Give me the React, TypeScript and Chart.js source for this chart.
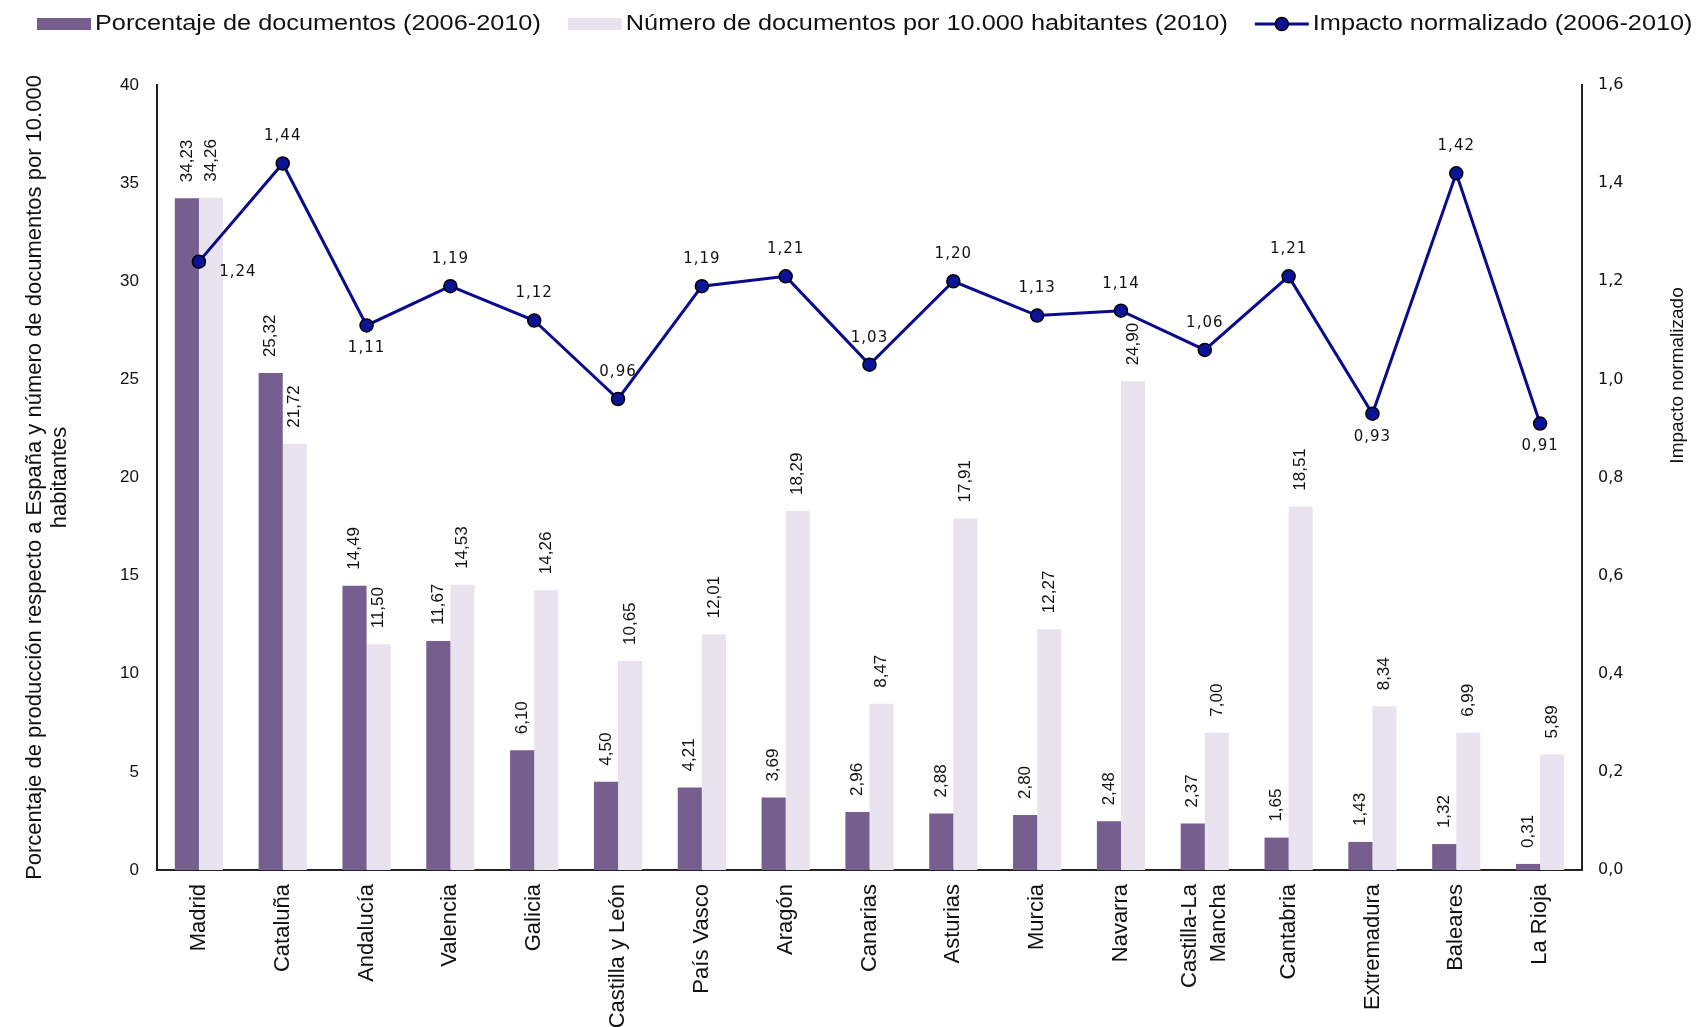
import React, { useEffect, useRef } from 'react';
import { Chart, registerables } from 'chart.js';

Chart.register(...registerables);

const regions: (string | string[])[] = [
  'Madrid', 'Cataluña', 'Andalucía', 'Valencia', 'Galicia', 'Castilla y León', 'País Vasco',
  'Aragón', 'Canarias', 'Asturias', 'Murcia', 'Navarra', ['Castilla-La', 'Mancha'], 'Cantabria',
  'Extremadura', 'Baleares', 'La Rioja',
];
const pctDocs = [34.23, 25.32, 14.49, 11.67, 6.10, 4.50, 4.21, 3.69, 2.96, 2.88, 2.80, 2.48, 2.37, 1.65, 1.43, 1.32, 0.31];
const docsPer10k = [34.26, 21.72, 11.50, 14.53, 14.26, 10.65, 12.01, 18.29, 8.47, 17.91, 12.27, 24.90, 7.00, 18.51, 8.34, 6.99, 5.89];
const impactNorm = [1.24, 1.44, 1.11, 1.19, 1.12, 0.96, 1.19, 1.21, 1.03, 1.20, 1.13, 1.14, 1.06, 1.21, 0.93, 1.42, 0.91];

const seriesNames = [
  'Porcentaje de documentos (2006-2010)',
  'Número de documentos por 10.000 habitantes (2010)',
  'Impacto normalizado (2006-2010)',
];
const leftTitle = ['Porcentaje de producción respecto a España y número de documentos por 10.000', 'habitantes'];
const rightTitle = 'Impacto normalizado';

// where each impact label sits relative to its point
const impactLabelPlacement = [
  'right', 'above', 'below', 'above', 'above', 'above', 'above', 'above', 'above',
  'above', 'above', 'above', 'above', 'above', 'below', 'above', 'below',
];

const PURPLE = '#765e8e';
const LIGHT = '#e8e3ee';
const NAVY = '#0a0a8c';
const POINT = '#0b1496';
const FONT = '"Liberation Sans", Arial, sans-serif';

const fmt = (v: number, d = 2) => v.toFixed(d).replace('.', ',');

const customPlugin = {
  id: 'customDraw',
  afterDatasetsDraw(chart: any) {
    const ctx = chart.ctx as CanvasRenderingContext2D;
    // bar labels
    [1, 2].forEach((di) => {
      const meta = chart.getDatasetMeta(di);
      const data = chart.data.datasets[di].data as number[];
      meta.data.forEach((el: any, i: number) => {
        ctx.save();
        ctx.translate(el.x, el.y - 16);
        ctx.rotate(-Math.PI / 2);
        ctx.font = `17px ${FONT}`;
        ctx.fillStyle = '#111';
        ctx.textAlign = 'left';
        ctx.textBaseline = 'middle';
        ctx.fillText(fmt(data[i]), 0, 0);
        ctx.restore();
      });
    });
    // line labels
    const lm = chart.getDatasetMeta(0);
    const ld = chart.data.datasets[0].data as number[];
    lm.data.forEach((el: any, i: number) => {
      const p = impactLabelPlacement[i];
      let x = el.x;
      let y = el.y;
      if (p === 'above') y -= 27;
      else if (p === 'below') y += 23;
      else { x += 39; y += 10; }
      ctx.save();
      ctx.font = `15px "DejaVu Sans", ${FONT}`;
      (ctx as any).letterSpacing = '1px';
      ctx.fillStyle = '#111';
      ctx.textAlign = 'center';
      ctx.textBaseline = 'middle';
      ctx.fillText(fmt(ld[i]), x, y);
      ctx.restore();
    });
  },
  afterDraw(chart: any) {
    const ctx = chart.ctx as CanvasRenderingContext2D;
    const sx = 1.15;
    const cy = 24;
    ctx.save();
    ctx.font = `22px ${FONT}`;
    ctx.textBaseline = 'middle';
    ctx.textAlign = 'left';
    let x = 37;
    const colors = [PURPLE, LIGHT];
    seriesNames.forEach((name, i) => {
      if (i < 2) {
        ctx.fillStyle = colors[i];
        ctx.fillRect(x, cy - 6, 54, 12);
      } else {
        ctx.strokeStyle = NAVY;
        ctx.lineWidth = 3;
        ctx.beginPath();
        ctx.moveTo(x, cy);
        ctx.lineTo(x + 54, cy);
        ctx.stroke();
        ctx.beginPath();
        ctx.arc(x + 27, cy, 6.5, 0, Math.PI * 2);
        ctx.fillStyle = POINT;
        ctx.fill();
        ctx.lineWidth = 1.5;
        ctx.strokeStyle = '#000';
        ctx.stroke();
      }
      const tx = x + 58;
      ctx.save();
      ctx.translate(tx, cy);
      ctx.scale(sx, 1);
      ctx.fillStyle = '#111';
      ctx.fillText(name, 0, 0);
      ctx.restore();
      const w = ctx.measureText(name).width * sx;
      x = tx + w + 27;
    });
    ctx.restore();

    // category labels, rotated, multi-line blocks centred on the tick
    const xs = chart.scales.x;
    const ca = chart.chartArea;
    ctx.save();
    ctx.font = `22px ${FONT}`;
    ctx.fillStyle = '#111';
    ctx.textAlign = 'right';
    ctx.textBaseline = 'middle';
    const lh = 29;
    (chart.data.labels as any[]).forEach((lab, i) => {
      const lines = Array.isArray(lab) ? lab : [lab];
      const px = xs.getPixelForTick(i);
      lines.forEach((ln: string, j: number) => {
        ctx.save();
        ctx.translate(px + (j - (lines.length - 1) / 2) * lh, ca.bottom + 14);
        ctx.rotate(-Math.PI / 2);
        ctx.fillText(ln, 0, 0);
        ctx.restore();
      });
    });
    ctx.restore();

    // right axis title (reads bottom-to-top)
    ctx.save();
    ctx.translate(1678, ca.top + (ca.bottom - ca.top) * 0.37);
    ctx.rotate(-Math.PI / 2);
    ctx.font = `19px ${FONT}`;
    ctx.fillStyle = '#111';
    ctx.textAlign = 'center';
    ctx.textBaseline = 'middle';
    ctx.fillText(rightTitle, 0, 0);
    ctx.restore();
  },
};

export default function App() {
  const ref = useRef<HTMLCanvasElement>(null);
  useEffect(() => {
    if (!ref.current) return;
    const chart = new Chart(ref.current, {
      type: 'bar',
      data: {
        labels: regions as any,
        datasets: [
          {
            type: 'line',
            label: seriesNames[2],
            data: impactNorm,
            yAxisID: 'y1',
            borderColor: NAVY,
            borderWidth: 3,
            backgroundColor: POINT,
            pointBackgroundColor: POINT,
            pointBorderColor: '#000',
            pointBorderWidth: 1.5,
            pointRadius: 6.5,
            tension: 0,
            order: 0,
          } as any,
          {
            type: 'bar',
            label: seriesNames[0],
            data: pctDocs,
            yAxisID: 'y',
            backgroundColor: PURPLE,
            borderWidth: 0,
            categoryPercentage: 0.575,
            barPercentage: 1,
            order: 1,
          },
          {
            type: 'bar',
            label: seriesNames[1],
            data: docsPer10k,
            yAxisID: 'y',
            backgroundColor: LIGHT,
            borderWidth: 0,
            categoryPercentage: 0.575,
            barPercentage: 1,
            order: 2,
          },
        ],
      },
      options: {
        animation: false,
        responsive: true,
        maintainAspectRatio: false,
        layout: { padding: { top: 85, left: 0, right: 0, bottom: 0 } },
        plugins: { legend: { display: false }, tooltip: { enabled: false } },
        scales: {
          x: {
            grid: { display: false },
            border: { display: true, color: '#222', width: 2 },
            ticks: { display: false, autoSkip: false },
            afterFit: (s: any) => { s.height = 157; },
          },
          y: {
            position: 'left',
            min: 0,
            max: 40,
            grid: { display: false },
            border: { display: true, color: '#222', width: 2 },
            ticks: { stepSize: 5, padding: 10, color: '#111', font: { family: FONT, size: 17 } },
            title: {
              display: true,
              text: leftTitle,
              color: '#111',
              font: { family: FONT, size: 22, lineHeight: 1.15 },
              padding: { top: 22, bottom: 0 },
            },
            afterFit: (s: any) => { s.width = 157; },
          },
          y1: {
            position: 'right',
            min: 0,
            max: 1.6,
            grid: { display: false },
            border: { display: true, color: '#222', width: 2 },
            ticks: {
              stepSize: 0.2,
              padding: 8,
              color: '#111',
              font: { family: '"DejaVu Sans", ' + FONT, size: 16 },
              callback: (v: any) => fmt(Number(v), 1),
            },
            afterFit: (s: any) => { s.width = 116; },
          },
        },
      },
      plugins: [customPlugin],
    });
    return () => chart.destroy();
  }, []);

  return (
    <div style={{ position: 'fixed', left: 0, top: 0, width: 1698, height: 1027, background: '#fff' }}>
      <canvas ref={ref} />
    </div>
  );
}
